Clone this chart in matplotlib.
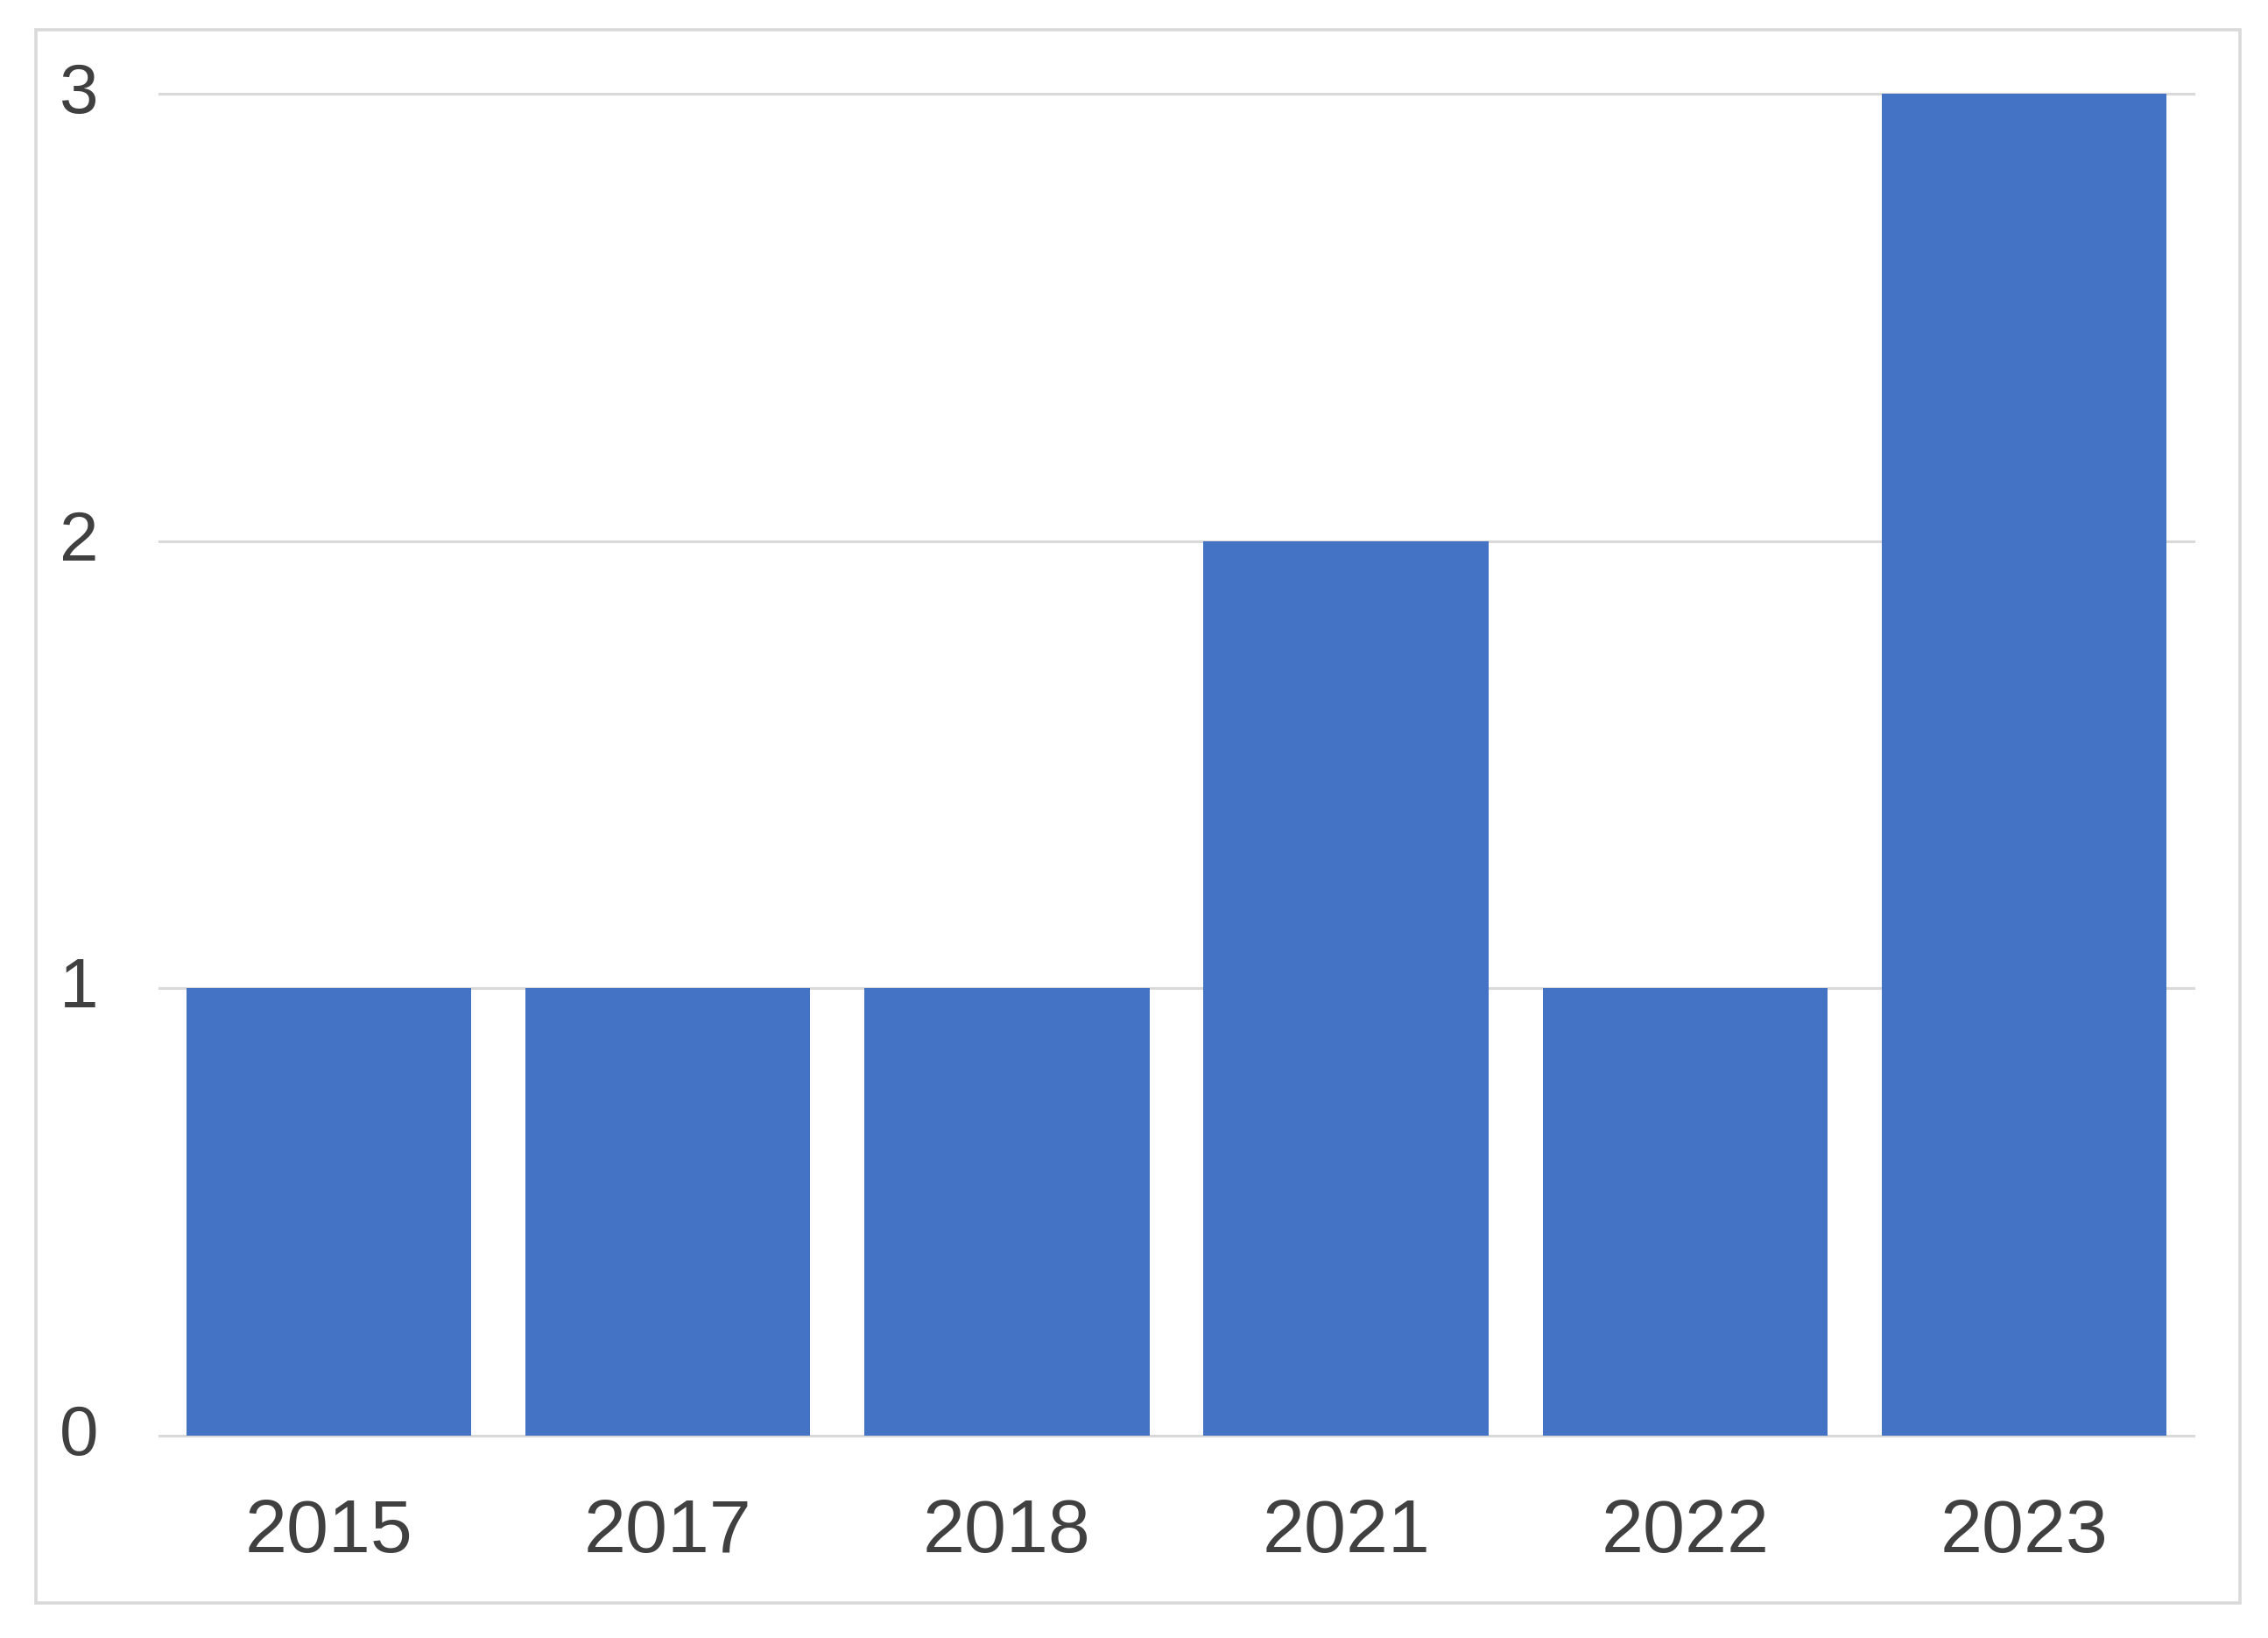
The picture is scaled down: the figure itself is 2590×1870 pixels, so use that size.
import matplotlib
matplotlib.use("Agg")
import matplotlib.pyplot as plt
import matplotlib.transforms as mtransforms
from matplotlib.patches import Rectangle

years = ["2015", "2017", "2018", "2021", "2022", "2023"]
counts = [1, 1, 1, 2, 1, 3]
y_ticks = [0, 1, 2, 3]

plt.rcParams['font.family'] = ['Liberation Sans', 'DejaVu Sans']

W, H, DPI = 2590, 1870, 200
fig = plt.figure(figsize=(W / DPI, H / DPI), dpi=DPI)
fig.patch.set_facecolor("white")

# outer border
fig.patches.append(Rectangle((41 / W, 1 - 1830 / H), (2558 - 41) / W, (1830 - 34) / H,
                             transform=fig.transFigure, fill=False,
                             edgecolor="#d9d9d9", linewidth=1.3, zorder=0))

ax = fig.add_axes([182 / W, 1 - 1639 / H, (2505 - 182) / W, (1639 - 107) / H])
x = list(range(len(years)))
ax.bar(x, counts, width=0.84, color="#4472C4", zorder=3)
ax.set_xlim(-0.5, len(years) - 0.5)
ax.set_ylim(0, 3)
ax.set_yticks(y_ticks)
ax.set_yticklabels([str(v) for v in y_ticks])
ax.set_xticks(x)
ax.set_xticklabels(years)
for s in ax.spines.values():
    s.set_visible(False)
ax.grid(axis="y", color="#d9d9d9", linewidth=1.1, zorder=0)
for gl in ax.get_ygridlines():
    gl.set_clip_on(False)
ax.tick_params(axis="y", length=0, pad=25, labelsize=28.8, labelcolor="#404040")
ax.tick_params(axis="x", length=0, pad=25.5, labelsize=31, labelcolor="#404040")
ax.set_facecolor("white")

shift = mtransforms.ScaledTranslation(0, 7 / DPI, fig.dpi_scale_trans)
for lbl in ax.get_yticklabels():
    lbl.set_transform(lbl.get_transform() + shift)

fig.savefig("out.png", dpi=DPI, facecolor="white")
